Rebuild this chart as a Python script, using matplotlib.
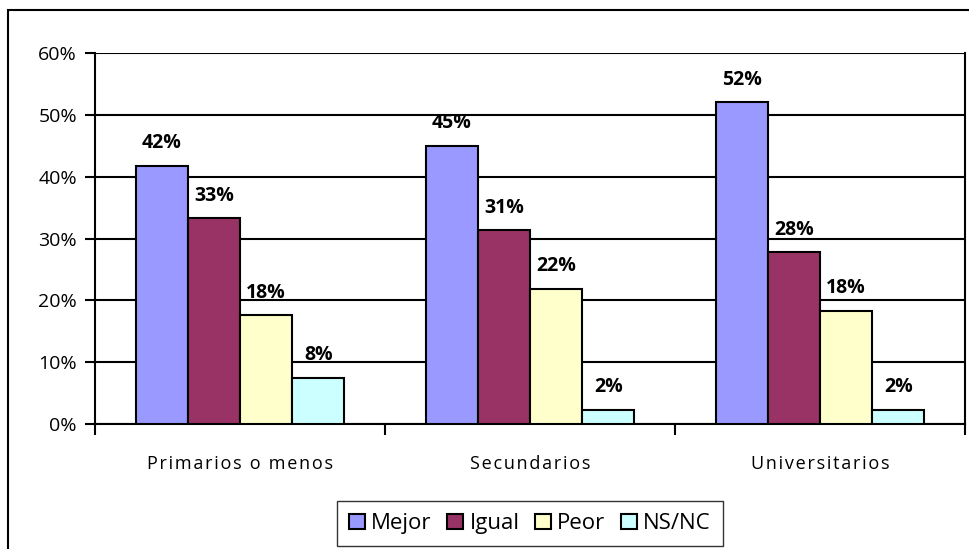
import numpy as np
import matplotlib.pyplot as plt
from matplotlib.patches import Rectangle

categorias = ['Primarios o menos', 'Secundarios', 'Universitarios']
series = ['Mejor', 'Igual', 'Peor', 'NS/NC']
mejor = [41.8, 45.0, 52.0]
igual = [33.3, 31.3, 27.8]
peor = [17.6, 21.9, 18.3]
nsnc = [7.5, 2.3, 2.3]
colores = ['#9999FF', '#993366', '#FFFFCC', '#CCFFFF']

plt.rcParams['font.family'] = ['Open Sans', 'DejaVu Sans']

fig = plt.figure(figsize=(9.7, 5.49), dpi=100)
ax = fig.add_axes([95 / 970, 1 - 424 / 549, 870 / 970, 371 / 549])

x = np.arange(len(categorias))
ancho = 0.18
valores = [mejor, igual, peor, nsnc]
for i, (nombre, vals) in enumerate(zip(series, valores)):
    pos = x + (i - 1.5) * ancho
    ax.bar(pos, vals, ancho, color=colores[i], edgecolor='black', linewidth=1.5,
           label=nombre, zorder=3)
    for p, v in zip(pos, vals):
        ax.text(p, v + 2.0, f'{v:.0f}%', ha='center', va='bottom',
                fontsize=14, fontweight='bold', zorder=4)

ax.set_xlim(-0.5, 2.5)
ax.set_ylim(0, 60)
ax.set_yticks(range(0, 61, 10))
ax.set_yticklabels([f'{t}%' for t in range(0, 61, 10)], fontsize=14)
ax.yaxis.grid(True, color='black', linewidth=1.5, zorder=0)

# espaciado entre letras como en el original
ax.set_xticks(x)
ax.set_xticklabels(['\u200a'.join(c) for c in categorias], fontsize=13)
ax.tick_params(axis='x', length=0, pad=22)
ax.set_xticks([-0.5, 0.5, 1.5, 2.5], minor=True)
ax.tick_params(axis='x', which='minor', length=8, width=1.5)
ax.tick_params(axis='y', length=7, width=1.5, pad=6)

for s in ax.spines.values():
    s.set_linewidth(1.5)
ax.spines['top'].set_visible(False)

ax.legend(loc='lower center', bbox_to_anchor=(0.5, -0.36), ncol=4,
          frameon=True, fancybox=False, edgecolor='black', fontsize=16,
          handlelength=0.7, handleheight=0.7, handletextpad=0.3,
          columnspacing=0.7, borderpad=0.55)

fig.patches.append(Rectangle((8 / 970, -0.01), 1, 1 - 10 / 549 + 0.01,
                             transform=fig.transFigure, fill=False,
                             edgecolor='black', linewidth=1.5))

fig.savefig('out.png', dpi=100)
